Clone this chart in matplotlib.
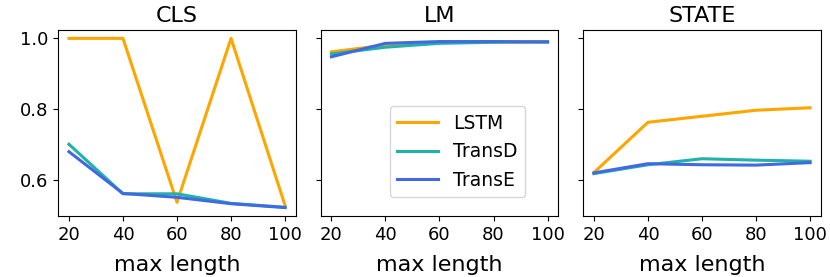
import matplotlib

matplotlib.use("Agg")
import matplotlib.pyplot as plt

lengths = [20, 40, 60, 80, 100]
tasks = ["CLS", "LM", "STATE"]

lstm = {
    "CLS": [1.0, 1.0, 0.537, 1.0, 0.528],
    "LM": [0.962, 0.981, 0.989, 0.990, 0.990],
    "STATE": [0.621, 0.763, 0.780, 0.797, 0.804],
}
transd = {
    "CLS": [0.701, 0.561, 0.561, 0.534, 0.523],
    "LM": [0.956, 0.975, 0.986, 0.989, 0.990],
    "STATE": [0.618, 0.643, 0.660, 0.656, 0.653],
}
transe = {
    "CLS": [0.680, 0.562, 0.551, 0.533, 0.522],
    "LM": [0.948, 0.986, 0.991, 0.991, 0.990],
    "STATE": [0.620, 0.646, 0.643, 0.642, 0.649],
}

fig, axes = plt.subplots(1, 3, figsize=(8.3, 2.77), dpi=100, sharey=True)
fig.subplots_adjust(left=0.07, right=0.989, bottom=0.22, top=0.892, wspace=0.104)

for ax, task in zip(axes, tasks):
    ax.plot(lengths, lstm[task], color="orange", linewidth=2.2, label="LSTM")
    ax.plot(lengths, transd[task], color="lightseagreen", linewidth=2.2, label="TransD")
    ax.plot(lengths, transe[task], color="royalblue", linewidth=2.2, label="TransE")
    ax.set_title(task, fontsize=16)
    ax.set_xlabel("max length", fontsize=16, labelpad=8)
    ax.set_xticks(lengths)
    ax.set_yticks([0.6, 0.8, 1.0])
    ax.tick_params(labelsize=13)

axes[1].legend(loc="lower right", bbox_to_anchor=(0.861, 0.102),
               borderaxespad=0, fontsize=13.5, handlelength=2.2)

plt.savefig("out.png", dpi=100)
